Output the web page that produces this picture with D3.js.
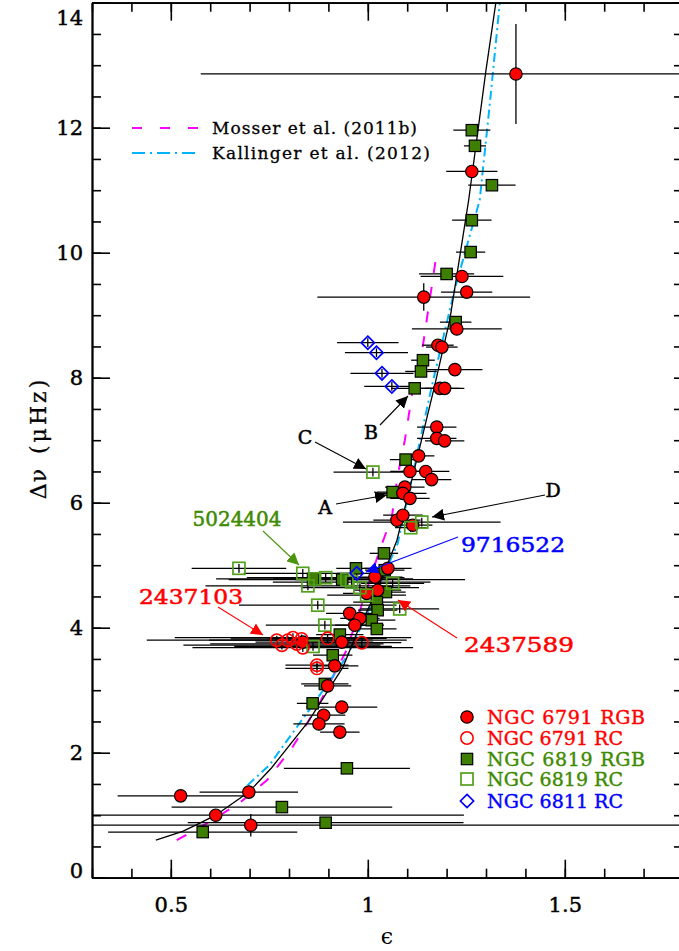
<!DOCTYPE html>
<html><head><meta charset="utf-8">
<script src="https://cdn.jsdelivr.net/npm/d3@7"></script>
<style>body{margin:0;background:#fff} svg{display:block}</style>
</head><body><svg id="chart" width="679" height="951"></svg>
<script>
// Asteroseismic phase offset epsilon against large separation for cluster red giants.
// Each star: [epsilon, epsilon error, delta-nu (muHz), delta-nu error]
const ngc6791RGB = [
  [1.376,0.80,12.86,0.80],[1.264,0.065,11.30,0.06],[1.239,0.105,9.62,0.06],[1.251,0.065,9.37,0.06],
  [1.142,0.27,9.29,0.22],[1.226,0.114,8.78,0.06],[1.178,0.04,8.52,0.06],[1.188,0.04,8.49,0.06],
  [1.221,0.07,8.13,0.06],[1.183,0.05,7.83,0.06],[1.195,0.05,7.83,0.06],[1.175,0.05,7.21,0.06],
  [1.175,0.05,7.03,0.06],[1.195,0.05,6.99,0.06],[1.129,0.04,6.75,0.06],[1.107,0.05,6.50,0.06],
  [1.147,0.06,6.50,0.06],[1.162,0.05,6.37,0.06],[1.094,0.05,6.25,0.06],[1.089,0.06,6.15,0.06],
  [1.107,0.05,6.07,0.06],[1.074,0.06,5.72,0.06],[1.089,0.05,5.80,0.06],[1.114,0.05,5.64,0.06],
  [1.051,0.06,4.95,0.06],[1.018,0.07,4.81,0.06],[1.025,0.06,4.60,0.06],[0.997,0.06,4.55,0.06],
  [0.954,0.06,4.23,0.06],[0.980,0.05,4.15,0.06],[0.967,0.05,4.04,0.06],[0.835,0.12,3.77,0.06],
  [0.934,0.08,3.77,0.06],[0.916,0.06,3.39,0.06],[0.898,0.06,3.07,0.06],[0.934,0.09,2.73,0.06],
  [0.888,0.055,2.60,0.06],[0.876,0.065,2.46,0.06],[0.929,0.05,2.33,0.06],[0.698,0.125,1.37,0.06],
  [0.525,0.16,1.31,0.06],[0.614,0.63,1.00,0.06],[0.703,1.15,0.84,0.18]
];
const ngc6791RC = [
  [0.769,0.33,3.80,0.07],[0.782,0.25,3.72,0.07],[0.797,0.20,3.80,0.07],[0.810,0.30,3.84,0.07],
  [0.820,0.22,3.74,0.07],[0.832,0.18,3.82,0.07],[0.835,0.28,3.68,0.07],[0.898,0.15,3.83,0.07],
  [0.985,0.10,3.76,0.07],[0.871,0.08,3.40,0.07],[0.871,0.08,3.35,0.07]
];
const ngc6819RGB = [
  [1.264,0.047,11.96,0.06],[1.272,0.028,11.71,0.06],[1.315,0.06,11.08,0.06],[1.264,0.05,10.52,0.06],
  [1.261,0.037,10.01,0.06],[1.200,0.07,9.66,0.06],[1.223,0.04,8.89,0.06],[1.140,0.03,8.28,0.06],
  [1.135,0.04,8.10,0.06],[1.119,0.06,7.83,0.06],[1.096,0.04,6.69,0.06],[1.063,0.04,6.17,0.06],
  [1.041,0.036,5.19,0.06],[0.970,0.05,4.95,0.06],[1.043,0.05,4.92,0.06],[1.046,0.05,4.57,0.06],
  [1.023,0.06,4.41,0.06],[1.025,0.05,4.28,0.06],[1.010,0.06,4.12,0.06],[1.023,0.05,3.98,0.06],
  [0.929,0.06,3.89,0.06],[0.911,0.05,3.56,0.06],[0.891,0.06,3.10,0.06],[0.860,0.04,2.79,0.06],
  [0.947,0.16,1.75,0.06],[0.782,0.28,1.13,0.06],[0.893,0.35,0.88,0.06],[0.581,0.24,0.73,0.06],
  [0.861,0.10,4.78,0.06],[0.935,0.12,4.77,0.06]
];
const ngc6819RC = [
  [1.013,0.10,6.49,0.07],[1.137,0.20,5.69,0.07],[1.109,0.04,5.60,0.07],[0.835,0.15,4.87,0.07],
  [0.673,0.12,4.95,0.07],[0.848,0.26,4.67,0.07],[0.865,0.25,4.78,0.07],[0.893,0.20,4.80,0.07],
  [0.947,0.30,4.77,0.07],[0.959,0.20,4.73,0.07],[0.980,0.15,4.64,0.07],[0.997,0.10,4.52,0.07],
  [1.063,0.08,4.71,0.07],[1.081,0.10,4.30,0.07],[0.873,0.20,4.36,0.07],[0.891,0.15,4.04,0.07],
  [0.861,0.20,3.70,0.07]
];
const ngc6811RC = [
  [1.000,0.078,8.56,0.07],[1.022,0.08,8.40,0.07],[1.036,0.08,8.07,0.07],[1.061,0.07,7.86,0.07],
  [0.972,0.05,4.87,0.07]
];

// Relations: [epsilon, delta-nu]
const fitThisWork = [[0.462,0.60],[0.530,0.74],[0.566,0.85],[0.614,1.00],[0.698,1.37],[0.756,1.76],
  [0.848,2.49],[0.937,3.37],[0.972,3.91],[1.030,4.70],[1.074,5.40],[1.132,6.89],[1.167,7.80],
  [1.208,8.92],[1.256,10.84],[1.300,12.92],[1.325,14.0]];
const fitMosser = [[0.515,0.60],[0.600,0.90],[0.675,1.20],[0.744,1.56],[0.807,2.07],[0.878,2.80],
  [0.911,3.21],[0.946,3.64],[0.980,4.28],[1.030,5.24],[1.061,5.77],[1.076,6.44],[1.094,7.00],
  [1.114,7.80],[1.140,8.52],[1.175,10.0]];
const fitKallinger = [[0.695,1.48],[0.750,1.80],[0.860,2.76],[0.949,3.56],[1.000,4.25],[1.076,5.35],
  [1.162,7.85],[1.220,9.40],[1.284,10.84],[1.310,12.40],[1.335,14.0]];

const xMajor = [0.5,1,1.5];
const yMajor = [0,2,4,6,8,10,12,14];
const legendLabels = ["NGC 6791 RGB","NGC 6791 RC","NGC 6819 RGB","NGC 6819 RC","NGC 6811 RC"];
const relationLabels = ["Mosser et al. (2011b)","Kallinger et al. (2012)"];

const RED="#ff0000", GREEN="#3e7e00", GREEN_OPEN="#52a01c", GREEN_TEXT="#3e8a00", BLUE="#0000ff";
const FONT="DejaVu Serif";

const svg = d3.select("#chart");
const x = d3.scaleLinear().domain([0.3,1.8]).range([92,683]);
const y = d3.scaleLinear().domain([0,14]).range([877.7,2.7]);

svg.append("defs").append("clipPath").attr("id","plotclip")
  .append("rect").attr("x",92).attr("y",2.7).attr("width",591).attr("height",875);

const plot = svg.append("g").attr("clip-path","url(#plotclip)");

// relation curves
const line = d3.line().x(d=>x(d[0])).y(d=>y(d[1]));
plot.append("path").datum(fitMosser).attr("d",line).attr("fill","none")
  .attr("stroke","#ff00ff").attr("stroke-width",2).attr("stroke-dasharray","11,14");
plot.append("path").datum(fitKallinger).attr("d",line).attr("fill","none")
  .attr("stroke","#00b4ff").attr("stroke-width",2).attr("stroke-dasharray","9,4,2,4");
plot.append("path").datum(fitThisWork).attr("d",line).attr("fill","none")
  .attr("stroke","#000").attr("stroke-width",1.3);

// error bars
const allStars = [].concat(ngc6791RGB, ngc6791RC, ngc6819RGB, ngc6819RC, ngc6811RC);
const eb = plot.append("g").attr("stroke","#000").attr("stroke-width",1.3);
eb.selectAll("line.h").data(allStars).join("line").attr("class","h")
  .attr("x1",d=>x(d[0]-d[1])).attr("x2",d=>x(d[0]+d[1])).attr("y1",d=>y(d[2])).attr("y2",d=>y(d[2]));
eb.selectAll("line.v").data(allStars).join("line").attr("class","v")
  .attr("x1",d=>x(d[0])).attr("x2",d=>x(d[0])).attr("y1",d=>y(d[2]-d[3])).attr("y2",d=>y(d[2]+d[3]));

// symbol drawing helpers
function drawCircles(g, data, filled){
  g.selectAll(null).data(data).join("circle")
    .attr("cx",d=>x(d[0])).attr("cy",d=>y(d[2])).attr("r",6.2)
    .attr("fill",filled?RED:"none").attr("stroke",filled?"#000":RED).attr("stroke-width",filled?1.2:1.6);
}
function drawSquares(g, data, filled){
  const s = filled?11.4:12;
  g.selectAll(null).data(data).join("rect")
    .attr("x",d=>x(d[0])-s/2).attr("y",d=>y(d[2])-s/2).attr("width",s).attr("height",s)
    .attr("fill",filled?GREEN:"none").attr("stroke",filled?"#000":GREEN_OPEN).attr("stroke-width",filled?1.2:1.7);
}
function drawDiamonds(g, data){
  const r=6.6;
  g.selectAll(null).data(data).join("path")
    .attr("d",d=>{const cx=x(d[0]),cy=y(d[2]);return `M${cx},${cy-r}L${cx+r},${cy}L${cx},${cy+r}L${cx-r},${cy}Z`;})
    .attr("fill","none").attr("stroke",BLUE).attr("stroke-width",1.7);
}
const marks = plot.append("g");
drawSquares(marks.append("g"), ngc6819RGB, true);
drawCircles(marks.append("g"), ngc6791RGB, true);
drawSquares(marks.append("g"), ngc6819RC, false);
drawCircles(marks.append("g"), ngc6791RC, false);
drawDiamonds(marks.append("g"), ngc6811RC);

// axes
function styleAxis(g){
  g.select(".domain").attr("stroke","#000").attr("stroke-width",1.8);
  g.selectAll(".tick line").attr("stroke","#000").attr("stroke-width",1.6);
  g.selectAll("text").attr("font-family",FONT).attr("font-size",21).attr("fill","#000")
    .attr("stroke","#000").attr("stroke-width",0.45);
}
const minorX = d3.range(0.3,1.8001,0.1).map(v=>+v.toFixed(2));
const minorY = d3.range(0,14.001,0.5);

const gxMinor = svg.append("g").attr("transform","translate(0,877.7)")
  .call(d3.axisBottom(x).tickValues(minorX).tickSize(-9).tickSizeOuter(0).tickFormat(""));
const gx = svg.append("g").attr("transform","translate(0,877.7)")
  .call(d3.axisBottom(x).tickValues(xMajor).tickSize(-18).tickSizeOuter(0).tickPadding(19).tickFormat(d3.format("")));
const gtMinor = svg.append("g").attr("transform","translate(0,2.7)")
  .call(d3.axisTop(x).tickValues(minorX).tickSize(-9).tickSizeOuter(0).tickFormat(""));
const gt = svg.append("g").attr("transform","translate(0,2.7)")
  .call(d3.axisTop(x).tickValues(xMajor).tickSize(-18).tickSizeOuter(0).tickFormat(""));
const gyMinor = svg.append("g").attr("transform","translate(92,0)")
  .call(d3.axisLeft(y).tickValues(minorY).tickSize(-9).tickSizeOuter(0).tickFormat(""));
const gy = svg.append("g").attr("transform","translate(92,0)")
  .call(d3.axisLeft(y).tickValues(yMajor).tickSize(-18).tickSizeOuter(0).tickPadding(9).tickFormat(d3.format("d")));
const grMinor = svg.append("g").attr("transform","translate(683,0)")
  .call(d3.axisRight(y).tickValues(minorY).tickSize(-9).tickSizeOuter(0).tickFormat(""));
[gxMinor,gx,gtMinor,gt,gyMinor,gy,grMinor].forEach(styleAxis);
gy.selectAll(".tick text").attr("dy",d=> d===14 ? "1.05em" : d===0 ? "0.0em" : "0.32em");

// axis titles
svg.append("text").attr("x",387).attr("y",944).attr("text-anchor","middle")
  .attr("font-family",FONT).attr("font-size",22).text("ϵ");
const yTitle = svg.append("text").attr("transform","translate(46,438) rotate(-90)").attr("text-anchor","middle")
  .attr("font-family",FONT).attr("font-size",22).attr("stroke","#000").attr("stroke-width",0.3);
yTitle.append("tspan").attr("letter-spacing",1).text("Δν");
yTitle.append("tspan").attr("dx",14).attr("letter-spacing",3).text("(μHz)");

// relation legend
const relLeg = svg.append("g");
relLeg.append("line").attr("x1",132).attr("x2",198).attr("y1",128).attr("y2",128)
  .attr("stroke","#ff00ff").attr("stroke-width",2).attr("stroke-dasharray","10,18");
relLeg.append("line").attr("x1",132).attr("x2",198).attr("y1",153).attr("y2",153)
  .attr("stroke","#00b4ff").attr("stroke-width",2).attr("stroke-dasharray","13,5,2,5");
relLeg.append("text").attr("x",212).attr("y",134).attr("font-family",FONT).attr("font-size",17)
  .attr("stroke","#000").attr("stroke-width",0.3)
  .attr("textLength",205).attr("lengthAdjust","spacing").text(relationLabels[0]);
relLeg.append("text").attr("x",212).attr("y",159).attr("font-family",FONT).attr("font-size",17)
  .attr("stroke","#000").attr("stroke-width",0.3)
  .attr("textLength",218).attr("lengthAdjust","spacing").text(relationLabels[1]);

// symbol legend
const legRows = [717,738,759,779,801];
const legColors = [RED,RED,GREEN_TEXT,GREEN_TEXT,BLUE];
const leg = svg.append("g");
drawCircles(leg, [[x.invert(467),0,y.invert(legRows[0]),0]], true);
drawCircles(leg.append("g"), [[x.invert(467),0,y.invert(legRows[1]),0]], false);
drawSquares(leg.append("g"), [[x.invert(467),0,y.invert(legRows[2]),0]], true);
drawSquares(leg.append("g"), [[x.invert(467),0,y.invert(legRows[3]),0]], false);
drawDiamonds(leg.append("g"), [[x.invert(467),0,y.invert(legRows[4]),0]]);
legendLabels.forEach((t,i)=>{
  leg.append("text").attr("x",487).attr("y",legRows[i]+7).attr("font-family",FONT).attr("font-size",19)
    .attr("fill",legColors[i]).attr("stroke",legColors[i]).attr("stroke-width",0.4)
    .attr("textLength",t.endsWith("RGB")?158:136).attr("lengthAdjust","spacing").text(t);
});

// annotations
const defs = svg.select("defs");
function arrowMarker(id,color){
  defs.append("marker").attr("id",id).attr("viewBox","0 0 10 10").attr("refX",10).attr("refY",5)
    .attr("markerWidth",12).attr("markerHeight",12).attr("markerUnits","userSpaceOnUse").attr("orient","auto")
    .append("path").attr("d","M0,0L10,5L0,10Z").attr("fill",color);
}
arrowMarker("ahBlack","#000"); arrowMarker("ahRed",RED); arrowMarker("ahGreen","#4a9410"); arrowMarker("ahBlue",BLUE);
const notes = [
  {t:"A", tx:325, ty:507, c:"#000", m:"ahBlack", a:[336,504,387,495], fs:19, w:null},
  {t:"B", tx:371, ty:432, c:"#000", m:"ahBlack", a:[380,425,408,396], fs:19, w:null},
  {t:"C", tx:305, ty:437, c:"#000", m:"ahBlack", a:[315,442,366,469], fs:19, w:null},
  {t:"D", tx:553, ty:490, c:"#000", m:"ahBlack", a:[545,495,432,517], fs:19, w:null},
  {t:"5024404", tx:237, ty:519, c:GREEN_TEXT, m:"ahGreen", a:[263,531,299,565], fs:20, w:89},
  {t:"9716522", tx:513, ty:545, c:BLUE, m:"ahBlue", a:[458,537,366,572], fs:20, w:104},
  {t:"2437103", tx:191, ty:597, c:RED, m:"ahRed", a:[218,607,263,635], fs:20, w:104},
  {t:"2437589", tx:519, ty:645, c:RED, m:"ahRed", a:[457,638,398,600], fs:20, w:110}
];
const ann = svg.append("g");
notes.forEach(n=>{
  ann.append("line").attr("x1",n.a[0]).attr("y1",n.a[1]).attr("x2",n.a[2]).attr("y2",n.a[3])
    .attr("stroke",n.m==="ahGreen"?"#4a9410":n.c).attr("stroke-width",1.1).attr("marker-end",`url(#${n.m})`);
  const t = ann.append("text").attr("x",n.tx).attr("y",n.ty).attr("dy","0.36em").attr("text-anchor","middle")
    .attr("font-family",FONT).attr("font-size",n.fs).attr("fill",n.c)
    .attr("stroke",n.c).attr("stroke-width",0.5).text(n.t);
  if(n.w) t.attr("textLength",n.w).attr("lengthAdjust","spacingAndGlyphs");
});
</script></body></html>
